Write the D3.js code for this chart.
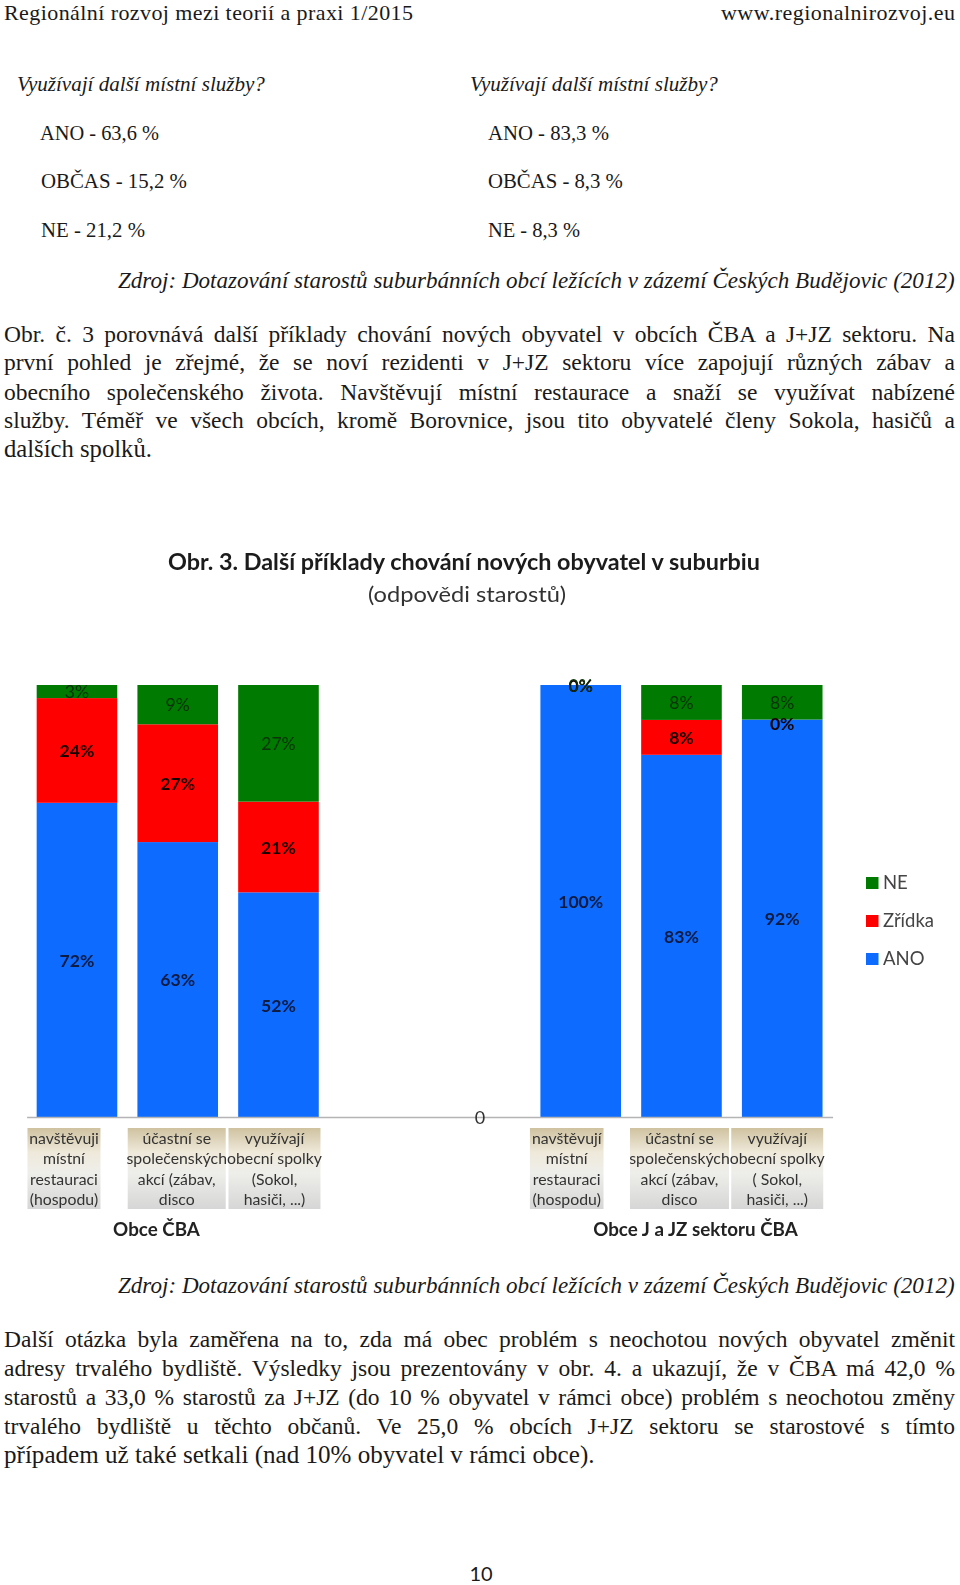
<!DOCTYPE html>
<html lang="cs"><head><meta charset="utf-8">
<script src="https://cdn.jsdelivr.net/npm/d3@7"></script>
<style>html,body{margin:0;padding:0;background:#fff}svg{display:block}</style>
</head><body><svg id="c" width="960" height="1585"></svg>
<script>
// ---- chart data ----
const slots = ["a1","a2","a3","gap1","gap2","b1","b2","b3"];
const barSlots = ["a1","a2","a3","b1","b2","b3"];
const ano    = [72,63,52,100,83,92];
const zridka = [24,27,21,0,8,0];
const ne     = [3,9,27,0,8,8];
const seriesKeys = ["ANO","Zřídka","NE"];
const seriesColors = ["#0a6cff","#ff0000","#007a00"];
const labelColors = ["#0a1a40","#1a0505","#083008"];
const labelWeights = [700,700,400];
const legendOrder = ["NE","Zřídka","ANO"];
const catLabels = [
 ["navštěvuji","místní","restauraci","(hospodu)"],
 ["účastní se","společenských","akcí (zábav,","disco"],
 ["využívají","obecní spolky","(Sokol,","hasiči, ...)"],
 ["navštěvují","místní","restauraci","(hospodu)"],
 ["účastní se","společenských","akcí (zábav,","disco"],
 ["využívají","obecní spolky","( Sokol,","hasiči, ...)"]];
const groupLabels = ["Obce ČBA","Obce J a JZ sektoru ČBA"];
const zeroTick = [0];
// ---- page text ----
const head = [
 ["Regionální rozvoj mezi teorií a praxi 1/2015",4,413,19.6],
 ["www.regionalnirozvoj.eu",721,955,19.6]];
const plain = [
 ["Využívají další místní služby?",17,265,91,1],
 ["Využívají další místní služby?",470,718,91,1],
 ["ANO - 63,6 %",40,159,140,0],["ANO - 83,3 %",488,609,140,0],
 ["OBČAS - 15,2 %",41,187,188,0],["OBČAS - 8,3 %",488,623,188,0],
 ["NE - 21,2 %",41,145,237,0],["NE - 8,3 %",488,580,237,0],
 ["Zdroj: Dotazování starostů suburbánních obcí ležících v zázemí Českých Budějovic (2012)",118,955,288,1],
 ["dalších spolků.",4,152,457,0],
 ["Zdroj: Dotazování starostů suburbánních obcí ležících v zázemí Českých Budějovic (2012)",118,955,1293,1],
 ["případem už také setkali (nad 10% obyvatel v rámci obce).",4,595,1463,0]];
const just = [
 ["Obr. č. 3 porovnává další příklady chování nových obyvatel v obcích ČBA a J+JZ sektoru. Na",342],
 ["první pohled je zřejmé, že se noví rezidenti v J+JZ sektoru více zapojují různých zábav a",370],
 ["obecního společenského života. Navštěvují místní restaurace a snaží se využívat nabízené",400],
 ["služby. Téměř ve všech obcích, kromě Borovnice, jsou tito obyvatelé členy Sokola, hasičů a",428],
 ["Další otázka byla zaměřena na to, zda má obec problém s neochotou nových obyvatel změnit",1347],
 ["adresy trvalého bydliště. Výsledky jsou prezentovány v obr. 4. a ukazují, že v ČBA má 42,0 %",1376],
 ["starostů a 33,0 % starostů za J+JZ (do 10 % obyvatel v rámci obce) problém s neochotou změny",1405],
 ["trvalého bydliště u těchto občanů. Ve 25,0 % obcích J+JZ sektoru se starostové s tímto",1434]];

const svg = d3.select("#c");
const serif = "'Liberation Serif','Times New Roman',serif", sans = "Lato,'Open Sans',sans-serif";
const ink = "#1a1a1a";
// fit a line to its measured width by font size, undistorted
function fit(sel,maxSize){ sel.each(function(d){
  const w=this.getComputedTextLength(), target=d[2]-d[1], base=+this.getAttribute("font-size");
  const size=base*target/w;
  if(size<=maxSize){ this.setAttribute("font-size",size); }
  else { this.setAttribute("font-size",maxSize);
    const w2=this.getComputedTextLength();
    this.setAttribute("letter-spacing",(target-w2)/(d[0].length-1)); }
});}
svg.append("g").selectAll("text").data(head).join("text")
 .attr("x",d=>d[1]).attr("y",d=>d[3]).text(d=>d[0])
 .attr("font-family",serif).attr("font-size",20).attr("fill",ink).call(fit,22);
svg.append("g").selectAll("text").data(plain).join("text")
 .attr("x",d=>d[1]).attr("y",d=>d[3]).text(d=>d[0])
 .attr("font-family",serif).attr("font-size",20).attr("fill",ink)
 .attr("font-style",d=>d[4]?"italic":"normal").call(fit,30);
svg.append("g").selectAll("text").data(just).join("text")
 .attr("x",4).attr("y",d=>d[1]).text(d=>d[0])
 .attr("font-family",serif).attr("font-size",23.5).attr("fill",ink)
 .each(function(d){
   const spaces=d[0].split(" ").length-1;
   const w=this.getComputedTextLength();
   this.style.wordSpacing=((951-w)/spaces)+"px";
 });
svg.append("text").attr("x",481).attr("y",1581).attr("text-anchor","middle")
 .attr("font-family",sans).attr("font-size",20).attr("fill",ink).text("10");

// chart
const defs = svg.append("defs");
defs.append("filter").attr("id","soft")
 .attr("filterUnits","userSpaceOnUse").attr("x",0).attr("y",500).attr("width",960).attr("height",760)
 .append("feGaussianBlur").attr("stdDeviation",0.5);
const chart = svg.append("g").attr("filter","url(#soft)");
const x = d3.scaleBand().domain(slots).range([26.6,832.6]).paddingInner(0.2).paddingOuter(0.1);
const y = d3.scaleLinear().domain([0,1]).range([1117,685]);
const rows = barSlots.map((s,i)=>({slot:s,"ANO":ano[i],"Zřídka":zridka[i],"NE":ne[i]}));
const stacked = d3.stack().keys(seriesKeys).offset(d3.stackOffsetExpand)(rows);
const color = d3.scaleOrdinal(seriesKeys,seriesColors);

// title
chart.append("text").attr("x",168).attr("y",570).text("Obr. 3. Další příklady chování nových obyvatel v suburbiu")
 .attr("font-family",sans).attr("font-weight",700).attr("font-size",22).attr("fill","#1a1a1a")
 .attr("textLength",592).attr("lengthAdjust","spacingAndGlyphs");
chart.append("text").attr("x",368).attr("y",602).text("(odpovědi starostů)")
 .attr("font-family",sans).attr("font-size",22).attr("fill","#333")
 .attr("textLength",198).attr("lengthAdjust","spacingAndGlyphs");

// bars
chart.append("g").selectAll("g").data(stacked).join("g").attr("fill",d=>color(d.key))
 .selectAll("rect").data(d=>d).join("rect")
 .attr("x",d=>x(d.data.slot)).attr("width",x.bandwidth())
 .attr("y",d=>y(d[1])).attr("height",d=>y(d[0])-y(d[1]));

// baseline axis
const axisG = chart.append("g").attr("transform",`translate(0,${y(0)})`)
 .call(d3.axisBottom(x).tickSize(0).tickFormat(""));
axisG.select(".domain").attr("stroke","#b4b4b4").attr("stroke-width",1.5);
axisG.selectAll(".tick").remove();
chart.append("g").selectAll("text").data(zeroTick).join("text")
 .attr("x",x("gap2")+x.bandwidth()/2).attr("y",y(0)+1).attr("dy","0.36em").attr("text-anchor","middle")
 .attr("font-family",sans).attr("font-size",18).attr("fill","#333")
 .text(d=>d);

// data labels
stacked.forEach((s,si)=>{
 chart.append("g").selectAll("text").data(s).join("text")
  .attr("x",d=>x(d.data.slot)+x.bandwidth()/2)
  .attr("y",d=>(y(d[0])+y(d[1]))/2 + ((s.key==="Zřídka"&&d.data["Zřídka"]===0&&d.data.NE>0)?4:0.5))
  .attr("dy","0.36em").attr("text-anchor","middle")
  .attr("font-family",sans).attr("font-size",17.6).attr("font-weight",labelWeights[si])
  .attr("fill",labelColors[si])
  .text(d=>d.data[s.key]+"%");
});

// category label boxes
const grad = defs.append("linearGradient").attr("id","cat").attr("x1",0).attr("y1",0).attr("x2",0).attr("y2",1);
[[0,"#cfc2a0"],[0.3,"#efe9da"],[0.55,"#eeeeea"],[1,"#d6d6d6"]].forEach(s=>grad.append("stop").attr("offset",s[0]).attr("stop-color",s[1]));
const boxOffset = [-13,-1,-4,-14,-2,-5];
const boxWidth = [73,98,92,74,99,92];
const cats = chart.append("g").selectAll("g").data(catLabels).join("g")
 .attr("transform",(d,i)=>`translate(${x(barSlots[i])+x.bandwidth()/2+boxOffset[i]},1128)`);
cats.append("rect").attr("x",(d,i)=>-boxWidth[i]/2).attr("width",(d,i)=>boxWidth[i]).attr("height",81).attr("fill","url(#cat)");
cats.selectAll("text").data(d=>d).join("text").attr("text-anchor","middle")
 .attr("y",(d,i)=>16+i*20.4).text(d=>d)
 .attr("font-family",sans).attr("font-size",15.8).attr("fill","#333");

// group labels
chart.append("g").selectAll("text").data(groupLabels).join("text")
 .attr("x",(d,i)=>i?695.5:156.5).attr("y",1236).attr("text-anchor","middle").text(d=>d)
 .attr("font-family",sans).attr("font-weight",700).attr("font-size",18.8).attr("fill","#222");

// legend
const lg = chart.append("g").selectAll("g").data(legendOrder).join("g")
 .attr("transform",(d,i)=>`translate(866,${877+i*38})`);
lg.append("rect").attr("width",12.5).attr("height",12).attr("fill",d=>color(d));
lg.append("text").attr("x",17).attr("y",11.5).text(d=>d)
 .attr("font-family",sans).attr("font-size",18.5).attr("fill","#444");
</script></body></html>
